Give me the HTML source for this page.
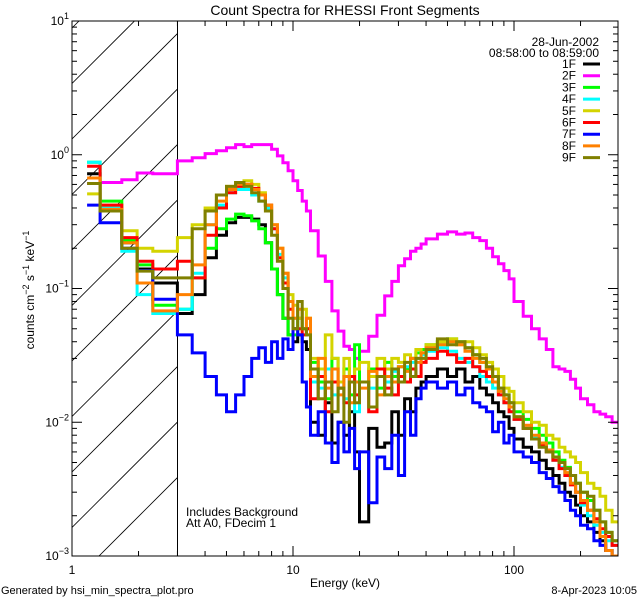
<!DOCTYPE html>
<html><head><meta charset="utf-8"><style>
html,body{margin:0;padding:0;background:#fff;}
svg{display:block;font-family:"Liberation Sans",sans-serif;}
</style></head><body>
<svg id="chart" width="640" height="600" viewBox="0 0 640 600" xmlns="http://www.w3.org/2000/svg">
<rect width="640" height="600" fill="#fff"/>
<defs><clipPath id="plotclip"><rect x="72" y="21" width="546" height="535"/></clipPath>
<clipPath id="hatchclip"><rect x="72" y="21" width="106" height="535"/></clipPath></defs>
<text x="345" y="15" font-size="14" text-anchor="middle">Count Spectra for RHESSI Front Segments</text>
<g id="hatch" clip-path="url(#hatchclip)" stroke="#000" stroke-width="0.8"></g>
<line x1="177.5" y1="21" x2="177.5" y2="556" stroke="#000" stroke-width="1"/>
<g id="series" clip-path="url(#plotclip)"></g>
<g id="axes" stroke="#000" stroke-width="1"></g>
<g id="ticklabels" font-size="12"></g>
<text x="345" y="587" font-size="12" text-anchor="middle">Energy (keV)</text>
<text transform="translate(34,290) rotate(-90)" font-size="12" text-anchor="middle">counts cm<tspan dy="-5" font-size="9">−2</tspan><tspan dy="5"> s</tspan><tspan dy="-5" font-size="9">−1</tspan><tspan dy="5"> keV</tspan><tspan dy="-5" font-size="9">−1</tspan></text>
<text x="186" y="516" font-size="12">Includes Background</text>
<text x="186" y="527" font-size="12">Att A0, FDecim 1</text>
<text x="1" y="594" font-size="11">Generated by hsi_min_spectra_plot.pro</text>
<text x="637" y="594" font-size="11" text-anchor="end">8-Apr-2023 10:05</text>
<text x="599" y="46" font-size="12" text-anchor="end">28-Jun-2002</text>
<text x="599" y="57" font-size="12" text-anchor="end">08:58:00 to 08:59:00</text>
<g id="legend" font-size="12"></g>
</svg>
<script>
const edges=[1.17,1.34,1.68,1.97,2.32,3.0,3.5,4,4.5,5,5.5,6,6.5,7,7.5,8,8.5,9,9.5,10,10.5,11,11.5,12,13,14,15,16,17,18,19,20,22,24,26,28,30,32,34,36,38,40,45,50,55,60,65,70,75,80,85,90,95,100,110,120,130,140,150,160,170,180,190,200,215,230,245,260,278,295];
const seriesNames=["1F","2F","3F","4F","5F","6F","7F","8F","9F"];
const seriesColors=["#000000","#ff00ff","#00ff00","#00ffff","#d4d400","#ff0000","#0000ff","#ff8000","#808000"];
const s1F=[0.72,0.38,0.22,0.14,0.11, 0.065,0.09,0.17,0.25,0.31,0.34,0.34,0.33,0.3,0.22,0.14,0.09,0.06,0.045,0.04,0.045,0.04,0.035, 0.01,0.008,0.014,0.007,0.01,0.008,0.012,0.006,0.0018,0.009,0.0065,0.007,0.012,0.008,0.015,0.012,0.018,0.02,0.022,0.025,0.022,0.025,0.02,0.022,0.018,0.016,0.014,0.012,0.011,0.009,0.0075,0.0065,0.006,0.0052,0.0045,0.004,0.0035,0.003,0.0028,0.0024,0.002,0.0018,0.0015,0.0013,0.0011,0.001];
const s2F=[0.61,0.62,0.65,0.73,0.72, 0.9,0.95,1.02,1.07,1.13,1.19,1.15,1.19,1.19,1.19,1.1,0.98,0.87,0.76,0.64,0.54,0.45,0.38, 0.27,0.175,0.113,0.068,0.048,0.037,0.035,0.03,0.034,0.044,0.063,0.088,0.113,0.148,0.167,0.19,0.2,0.215,0.235,0.255,0.265,0.255,0.26,0.24,0.228,0.2,0.173,0.153,0.136,0.118,0.08,0.062,0.05,0.042,0.035,0.026,0.025,0.024,0.021,0.018,0.015,0.0135,0.012,0.0115,0.011,0.01];
const s3F=[0.88,0.45,0.23,0.15,0.075, 0.07,0.12,0.2,0.28,0.33,0.36,0.35,0.32,0.28,0.22,0.14,0.09,0.06,0.045,0.045,0.06,0.05,0.05, 0.028,0.02,0.015,0.03,0.018,0.025,0.016,0.038,0.02,0.025,0.018,0.028,0.022,0.026,0.025,0.03,0.033,0.035,0.038,0.04,0.042,0.04,0.036,0.032,0.028,0.025,0.022,0.018,0.016,0.014,0.012,0.0105,0.009,0.008,0.007,0.006,0.0052,0.0046,0.004,0.0035,0.003,0.0026,0.0022,0.0018,0.0015,0.0013];
const s4F=[0.88,0.4,0.19,0.09,0.065, 0.07,0.13,0.3,0.42,0.52,0.55,0.55,0.5,0.45,0.4,0.28,0.18,0.12,0.08,0.06,0.06,0.05,0.05, 0.02,0.018,0.025,0.016,0.02,0.015,0.022,0.012,0.02,0.018,0.022,0.02,0.024,0.022,0.026,0.028,0.03,0.032,0.034,0.036,0.034,0.03,0.028,0.026,0.022,0.02,0.018,0.016,0.014,0.012,0.0105,0.009,0.0078,0.007,0.006,0.0052,0.0046,0.004,0.0035,0.003,0.0024,0.002,0.0017,0.0015,0.0013,0.0012];
const s5F=[0.51,0.42,0.27,0.2,0.19, 0.24,0.3,0.4,0.5,0.58,0.62,0.64,0.6,0.52,0.42,0.3,0.2,0.13,0.09,0.075,0.06,0.07,0.06, 0.03,0.025,0.045,0.03,0.02,0.03,0.022,0.025,0.028,0.022,0.03,0.025,0.03,0.028,0.032,0.03,0.035,0.033,0.038,0.04,0.042,0.038,0.04,0.036,0.032,0.028,0.025,0.022,0.018,0.017,0.014,0.012,0.01,0.0095,0.008,0.0075,0.0065,0.006,0.0055,0.005,0.0042,0.0035,0.0032,0.0028,0.0022,0.0018];
const s6F=[0.82,0.42,0.24,0.16,0.14, 0.16,0.12,0.25,0.4,0.52,0.58,0.6,0.56,0.5,0.42,0.28,0.17,0.11,0.07,0.05,0.05,0.045,0.05, 0.015,0.022,0.012,0.02,0.018,0.014,0.022,0.016,0.02,0.012,0.025,0.018,0.016,0.022,0.02,0.025,0.022,0.028,0.03,0.034,0.032,0.028,0.03,0.026,0.024,0.022,0.02,0.016,0.014,0.012,0.0105,0.009,0.0075,0.0068,0.006,0.0052,0.0045,0.004,0.0034,0.003,0.0025,0.0022,0.0019,0.0016,0.0014,0.0012];
const s7F=[0.42,0.31,0.2,0.136,0.083, 0.045,0.033,0.022,0.016,0.012,0.016,0.022,0.03,0.036,0.028,0.04,0.03,0.042,0.035,0.05,0.045,0.02,0.013, 0.008,0.012,0.007,0.005,0.01,0.006,0.009,0.0045,0.006,0.0025,0.0055,0.0045,0.008,0.004,0.012,0.008,0.015,0.018,0.02,0.018,0.02,0.016,0.018,0.014,0.013,0.012,0.0085,0.01,0.007,0.008,0.006,0.0055,0.005,0.0042,0.0038,0.0033,0.003,0.0026,0.0022,0.002,0.0017,0.0016,0.0013,0.0012,0.0011,0.001];
const s8F=[0.67,0.39,0.22,0.11,0.068, 0.09,0.15,0.3,0.45,0.55,0.6,0.6,0.55,0.5,0.42,0.3,0.2,0.13,0.08,0.06,0.07,0.05,0.06, 0.022,0.03,0.018,0.025,0.016,0.022,0.014,0.02,0.018,0.024,0.016,0.022,0.02,0.026,0.024,0.03,0.028,0.033,0.036,0.038,0.04,0.038,0.034,0.03,0.028,0.025,0.02,0.017,0.015,0.013,0.011,0.0095,0.008,0.007,0.0062,0.0055,0.005,0.0042,0.0035,0.003,0.0026,0.0022,0.0018,0.0014,0.0011,0.001];
const s9F=[0.61,0.38,0.2,0.135,0.12, 0.12,0.28,0.38,0.5,0.58,0.62,0.58,0.52,0.45,0.38,0.25,0.16,0.1,0.06,0.05,0.08,0.05,0.045, 0.025,0.015,0.02,0.012,0.018,0.01,0.02,0.014,0.02,0.013,0.022,0.016,0.025,0.02,0.028,0.022,0.03,0.03,0.035,0.042,0.038,0.04,0.036,0.032,0.03,0.026,0.022,0.018,0.016,0.014,0.011,0.009,0.0075,0.0065,0.006,0.0055,0.005,0.0045,0.004,0.0035,0.003,0.0028,0.0022,0.0018,0.0015,0.0013];
const seriesValues=[s1F,s2F,s3F,s4F,s5F,s6F,s7F,s8F,s9F];
const drawOrder=[1,0,2,3,4,5,6,7,8];
const xTickMajor=[1,10,100];
const xTickLabels=["1","10","100"];
const yTickMajor=[-3,-2,-1,0,1];

const NS="http://www.w3.org/2000/svg";
const L=72,R=618,T=21,B=556;
const xMin=0,xMax=Math.log10(295.5);
const yMin=-3,yMax=1;
function xs(e){return L+(Math.log10(e)-xMin)/(xMax-xMin)*(R-L);}
function ys(v){return B-(Math.log10(v)-yMin)/(yMax-yMin)*(B-T);}
function mk(tag,attrs,parent){const el=document.createElementNS(NS,tag);for(const k in attrs)el.setAttribute(k,attrs[k]);parent.appendChild(el);return el;}

// hatch
const hatch=document.getElementById('hatch');
for(let c=B+27;c>T-120;c-=55.5){
  const ln=mk('line',{x1:L,y1:c,x2:L+130,y2:c-130},hatch);
  
  
}

// series
const sg=document.getElementById('series');
drawOrder.forEach(i=>{
  const vals=seriesValues[i];let d='';
  for(let b=0;b<vals.length;b++){
    const x0=xs(edges[b]),x1=xs(edges[b+1]);const y=ys(Math.max(vals[b],1e-4));
    d+=(b===0?'M':'L')+x0.toFixed(1)+','+y.toFixed(1)+'L'+x1.toFixed(1)+','+y.toFixed(1);
  }
  const p=mk('path',{d:d,fill:'none',stroke:seriesColors[i],'stroke-width':3,'stroke-linejoin':'miter'},sg);
  
  
});

// axes
const ax=document.getElementById('axes');
const frame=mk('rect',{x:L,y:T,width:R-L,height:B-T,fill:'none'},ax);


const tl=document.getElementById('ticklabels');
for(let dec=0;dec<3;dec++){
  for(let m=1;m<10;m++){
    const e=m*Math.pow(10,dec);if(e>295.5)break;
    const x=xs(e);const len=(m===1)?10:5;
    const t1=mk('line',{x1:x,y1:B,x2:x,y2:B-len},ax);
    
    
    const t2=mk('line',{x1:x,y1:T,x2:x,y2:T+len},ax);
    
    
  }
}
xTickMajor.forEach((e,k)=>{
  const t=mk('text',{x:xs(e),y:B+18,'text-anchor':'middle'},tl);t.textContent=xTickLabels[k];
  
  
});
for(let p=-3;p<=1;p++){
  for(let m=1;m<10;m++){
    const v=m*Math.pow(10,p);if(Math.log10(v)>1.0001)break;
    const y=ys(v);const len=(m===1)?10:5;
    const t1=mk('line',{x1:L,y1:y,x2:L+len,y2:y},ax);
    
    
    const t2=mk('line',{x1:R,y1:y,x2:R-len,y2:y},ax);
    
    
  }
}
yTickMajor.forEach(p=>{
  const t=mk('text',{x:L-3,y:ys(Math.pow(10,p))+4,'text-anchor':'end'},tl);
  
  
  const a=document.createElementNS(NS,'tspan');a.textContent='10';t.appendChild(a);
  const b=document.createElementNS(NS,'tspan');b.setAttribute('dy','-6');b.setAttribute('font-size','9');b.textContent=(p<0?'−':'')+Math.abs(p);t.appendChild(b);
});

// legend
const lg=document.getElementById('legend');
seriesNames.forEach((n,i)=>{
  const y=64+i*11.7;
  const g=mk('g',{},lg);
  
  
  const t=mk('text',{x:576,y:y+4,'text-anchor':'end'},g);t.textContent=n;
  mk('line',{x1:583,y1:y,x2:600,y2:y,stroke:seriesColors[i],'stroke-width':3},g);
});
</script>
</body></html>
